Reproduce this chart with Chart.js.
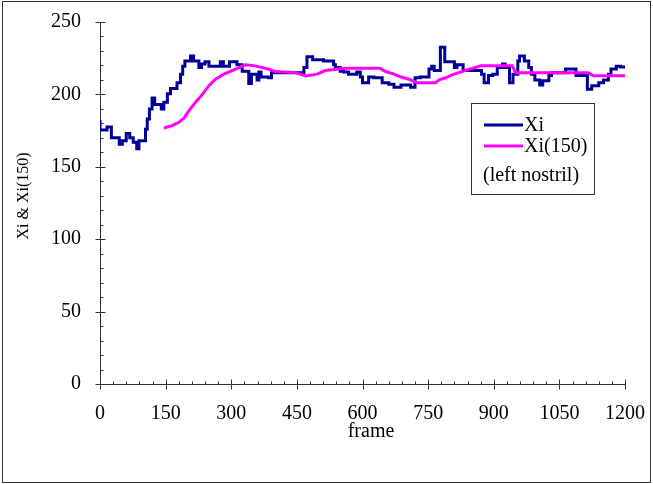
<!DOCTYPE html>
<html>
<head>
<meta charset="utf-8">
<title>Xi &amp; Xi(150)</title>
<script src="https://cdn.jsdelivr.net/npm/chart.js@4.4.0/dist/chart.umd.min.js"></script>
<style>
  html, body { margin: 0; padding: 0; background: #fff; }
  #wrap { width: 653px; height: 484px; }
</style>
</head>
<body>
<div id="wrap"><canvas id="chart" width="653" height="484"></canvas></div>
<script>
// --- DATA ---
const xiFrames = [0, 16, 26, 44, 51, 60, 68, 76, 84, 89, 104, 108, 113, 119, 125, 140, 146, 154, 161, 176,
    184, 189, 194, 207, 214, 226, 232, 240, 249, 275, 282, 296, 313, 325, 340, 346, 359, 363, 368, 385,
    392, 466, 473, 486, 511, 534, 538, 549, 557, 568, 587, 595, 600, 614, 626, 645, 660, 672, 688, 710,
    720, 732, 752, 758, 764, 778, 788, 810, 816, 830, 872, 878, 888, 898, 908, 920, 926, 936, 944, 955,
    959, 970, 980, 986, 994, 1005, 1012, 1026, 1032, 1064, 1088, 1114, 1124, 1140, 1151, 1162, 1168, 1180,
    1190, 1200];
const xiValues = [182.5, 175.5, 177.5, 170, 165.5, 168, 173, 170, 167, 162.5, 168, 176, 183, 190, 197.5, 193, 190, 194.5, 200.5, 204,
    208, 214, 219.5, 223, 226.5, 223, 218.5, 221, 222.5, 219.5, 222.5, 219.5, 222.5, 220.5, 216, 207.5, 214, 210, 215.5, 212,
    211.5, 215, 218.5, 226, 224, 223, 220.5, 218.5, 216, 215.5, 214, 215.5, 212, 208, 212, 211.5, 208, 207, 205, 206.5,
    205, 211.5, 212, 217.5, 219.5, 216.5, 232.5, 222.5, 218.5, 220.5, 216.5, 214, 208, 213, 214, 218.5, 221, 218.5, 208, 214,
    223, 226.5, 223, 218.5, 214, 210, 206.5, 209.5, 213, 215, 217.5, 213, 203.5, 206, 208, 210, 214, 217.5,
    219.5, 219];

const avgFrames = [146, 165, 180, 192, 203, 218, 234, 249, 264, 283, 306, 333, 355, 386, 401, 447, 470, 496, 515, 560,
    640, 653, 672, 688, 706, 725, 767, 775, 790, 805, 820, 836, 851, 870, 942, 950, 1116, 1128, 1200];
const avgValues = [176.8, 178.4, 180.7, 183.6, 188.7, 194.4, 200, 206, 210.5, 214, 217, 220.5, 219.7, 217.4, 215.8, 215, 212.8, 214, 216.5, 218,
    218, 215.8, 214, 212, 210.5, 208, 208, 210, 211.5, 213.5, 215, 216.7, 218, 219.7, 219.7, 215, 215, 212.8, 212.8];

const xTicks = [0, 150, 300, 450, 600, 750, 900, 1050, 1200];
const yTicks = [0, 50, 100, 150, 200, 250];
const xMinorStep = 30;
const yMinorStep = 10;

const seriesNames = ['Xi', 'Xi(150)'];
const legendNote = '(left nostril)';
const xTitle = 'frame';
const yTitle = 'Xi & Xi(150)';

// --- STYLE ---
const serif = "'Liberation Serif', 'Times New Roman', serif";
const axisColor = '#333333';
const xiColor = '#000099';
const avgColor = '#FF00FF';

// keep Chart.js from growing the plot inset for label overhang
function fixAxis(size) {
    return s => {
        if (s.isHorizontal()) s.height = size; else s.width = size;
        s.paddingTop = s.paddingBottom = s.paddingLeft = s.paddingRight = 0;
    };
}

// --- CUSTOM DRAWING: ticks, titles, legend box, outer frame ---
const excelLook = {
    id: 'excelLook',
    afterDraw(chart) {
        const { ctx, scales: { x, y } } = chart;
        const ax = Math.round(x.getPixelForValue(0)) + 0.5;
        const ay = Math.round(y.getPixelForValue(0)) + 0.5;

        ctx.save();
        ctx.strokeStyle = axisColor;
        ctx.lineWidth = 1;
        ctx.beginPath();

        // y ticks (major cross the axis, minor inside)
        for (let v = 0; v <= y.max; v += yMinorStep) {
            const py = Math.round(y.getPixelForValue(v)) + 0.5;
            if (yTicks.includes(v)) {
                ctx.moveTo(ax - 5, py); ctx.lineTo(ax + 5, py);
            } else {
                ctx.moveTo(ax, py); ctx.lineTo(ax + 3, py);
            }
        }
        // x ticks
        for (let v = 0; v <= x.max; v += xMinorStep) {
            const px = Math.round(x.getPixelForValue(v)) + 0.5;
            if (xTicks.includes(v)) {
                ctx.moveTo(px, ay - 5); ctx.lineTo(px, ay + 5);
            } else {
                ctx.moveTo(px, ay); ctx.lineTo(px, ay - 3);
            }
        }
        ctx.stroke();

        // axis titles
        ctx.fillStyle = '#000';
        ctx.font = `20px ${serif}`;
        ctx.textAlign = 'center';
        ctx.textBaseline = 'alphabetic';
        ctx.fillText(xTitle, 371, 437);

        ctx.save();
        ctx.translate(24, 196);
        ctx.rotate(-Math.PI / 2);
        ctx.font = `16px ${serif}`;
        ctx.textBaseline = 'middle';
        ctx.fillText(yTitle, 0, 0);
        ctx.restore();

        // legend box
        ctx.strokeStyle = axisColor;
        ctx.strokeRect(471.5, 103.5, 123, 91);
        ctx.font = `20px ${serif}`;
        ctx.textAlign = 'left';
        ctx.textBaseline = 'middle';
        const rows = [125, 146];
        chart.data.datasets.forEach((ds, i) => {
            ctx.strokeStyle = ds.borderColor;
            ctx.lineWidth = 3;
            ctx.beginPath();
            ctx.moveTo(484, rows[i]);
            ctx.lineTo(523, rows[i]);
            ctx.stroke();
            ctx.fillText(ds.label, 524, rows[i] + 1);
        });
        ctx.fillText(legendNote, 483, 176);

        // outer frame
        ctx.strokeStyle = axisColor;
        ctx.lineWidth = 1;
        ctx.strokeRect(2.5, 1.5, 648, 481);
        ctx.restore();
    }
};

// --- CHART ---
const canvas = document.getElementById('chart');

new Chart(canvas, {
    type: 'line',
    data: {
        datasets: [
            {
                label: seriesNames[0],
                data: xiFrames.map((f, i) => ({ x: f, y: xiValues[i] })),
                borderColor: xiColor,
                borderWidth: 3,
                stepped: 'after',
                pointRadius: 0,
                order: 1
            },
            {
                label: seriesNames[1],
                data: avgFrames.map((f, i) => ({ x: f, y: avgValues[i] })),
                borderColor: avgColor,
                borderWidth: 3,
                tension: 0,
                pointRadius: 0,
                order: 0
            }
        ]
    },
    options: {
        responsive: false,
        animation: false,
        devicePixelRatio: 1,
        layout: { padding: { left: 0, right: 28, top: 22, bottom: 0 } },
        scales: {
            x: {
                type: 'linear',
                min: 0,
                max: 1200,
                afterBuildTicks: s => { s.ticks = xTicks.map(v => ({ value: v })); },
                afterFit: fixAxis(100),
                ticks: {
                    font: { family: serif, size: 20 },
                    color: '#000',
                    padding: 18,
                    maxRotation: 0,
                    autoSkip: false,
                    callback: v => String(v)
                },
                grid: { display: false, drawTicks: false },
                border: { display: true, color: axisColor, width: 1 }
            },
            y: {
                type: 'linear',
                min: 0,
                max: 250,
                afterBuildTicks: s => { s.ticks = yTicks.map(v => ({ value: v })); },
                afterFit: fixAxis(100),
                ticks: {
                    font: { family: serif, size: 20 },
                    color: '#000',
                    padding: 19,
                    callback: v => String(v)
                },
                grid: { display: false, drawTicks: false },
                border: { display: true, color: axisColor, width: 1 }
            }
        },
        plugins: {
            legend: { display: false },
            tooltip: { enabled: false }
        }
    },
    plugins: [excelLook]
});
</script>
</body>
</html>
